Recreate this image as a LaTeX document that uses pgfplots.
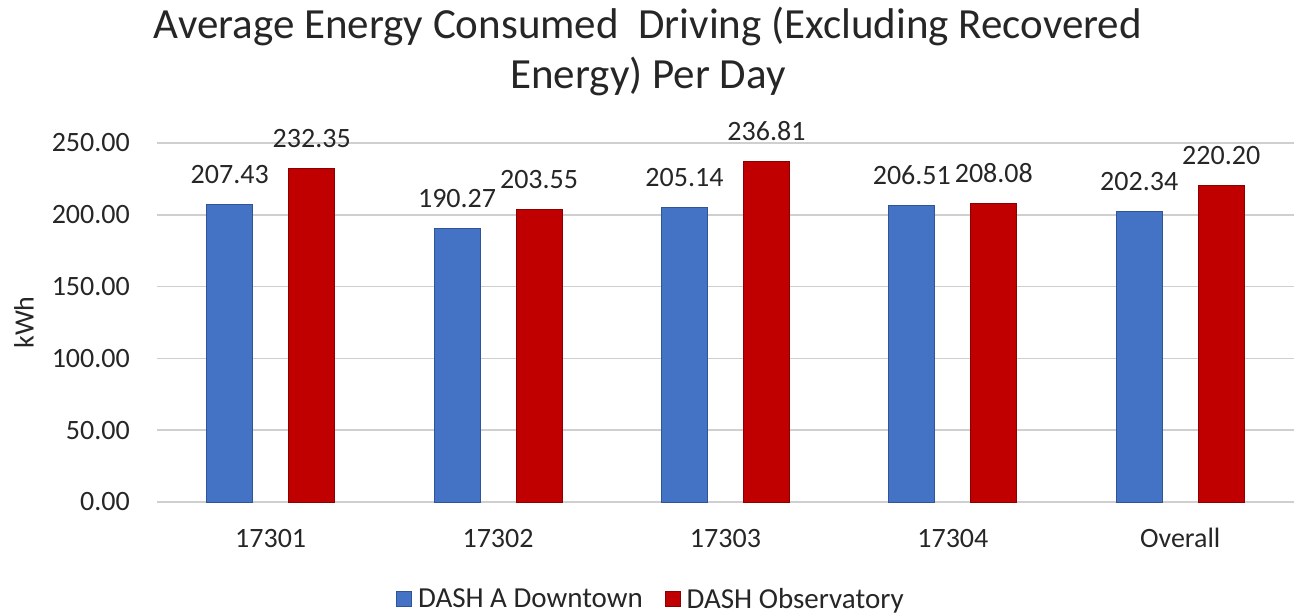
\documentclass[border=0pt]{standalone}
\usepackage{fontspec}
\setmainfont{Carlito}
\usepackage{pgfplots}
\pgfplotsset{compat=1.18}
\definecolor{barblue}{HTML}{4472C4}
\definecolor{barblueedge}{HTML}{2F5597}
\definecolor{barred}{HTML}{C00000}
\definecolor{barrededge}{HTML}{8B0000}
\definecolor{gridgray}{HTML}{CFCFCF}
\newcommand{\lblfont}{\fontsize{28}{34}\selectfont}
\begin{document}
\begin{tikzpicture}
\path[use as bounding box] (-157pt,-112pt) rectangle (1137pt,502pt);
\begin{axis}[
  scale only axis,
  width=1137pt, height=359pt,
  at={(0pt,0pt)}, anchor=south west,
  ybar, bar width=46pt,
  xmin=-0.5, xmax=4.5,
  ymin=0, ymax=250,
  xtick={0,1,2,3,4},
  xticklabels={17301,17302,17303,17304,Overall},
  ytick={0,50,100,150,200,250},
  major tick length=0pt,
  axis line style={draw=none},
  ymajorgrids, grid style={gridgray, line width=1.6pt},
  /pgf/number format/assume math mode=true,
  yticklabel={\pgfmathprintnumber[fixed,fixed zerofill,precision=2]{\tick}},
  tick label style={font=\lblfont, text=black!85},
  yticklabel style={anchor=east, inner sep=0pt, xshift=-27pt},
  xticklabel style={anchor=base, inner sep=0pt, yshift=-45pt},
  ylabel={kWh},
  ylabel style={font=\lblfont, text=black!85, at={(axis description cs:0,0.5)}, anchor=center, yshift=133pt, inner sep=0pt},
  title={Average Energy Consumed\ \ Driving (Excluding Recovered\\Energy) Per Day},
  title style={font=\fontsize{43}{50}\selectfont, text=black!85, align=center, at={(axis description cs:0.4318,1)}, anchor=base, yshift=49pt, inner sep=0pt},
  nodes near coords,
  nodes near coords={\pgfmathprintnumber[fixed,fixed zerofill,precision=2]{\pgfplotspointmeta}},
  every node near coord/.append style={font=\lblfont, text=black!85, anchor=base, yshift=21pt, inner sep=0pt},
  legend columns=2,
  legend style={draw=none, font=\fontsize{29}{34}\selectfont, text=black!85, at={(axis description cs:0.4345,0)}, anchor=center, yshift=-97pt,
    /tikz/every even column/.append style={column sep=20pt},
    /tikz/every odd column/.append style={column sep=4pt}, inner sep=0pt},
  legend image code/.code={\draw[#1, line width=0.8pt] (0pt,-7.5pt) rectangle (15pt,7.5pt);},
]
\addplot[fill=barblue, draw=barblueedge, line width=1pt, bar shift=-41pt] coordinates {
  (0,207.43) (1,190.27) (2,205.14) (3,206.51) (4,202.34)};
\addlegendentry{DASH A Downtown}
\addplot[fill=barred, draw=barrededge, line width=1pt, bar shift=41pt] coordinates {
  (0,232.35) (1,203.55) (2,236.81) (3,208.08) (4,220.20)};
\addlegendentry{DASH Observatory}
\end{axis}
\end{tikzpicture}
\end{document}
